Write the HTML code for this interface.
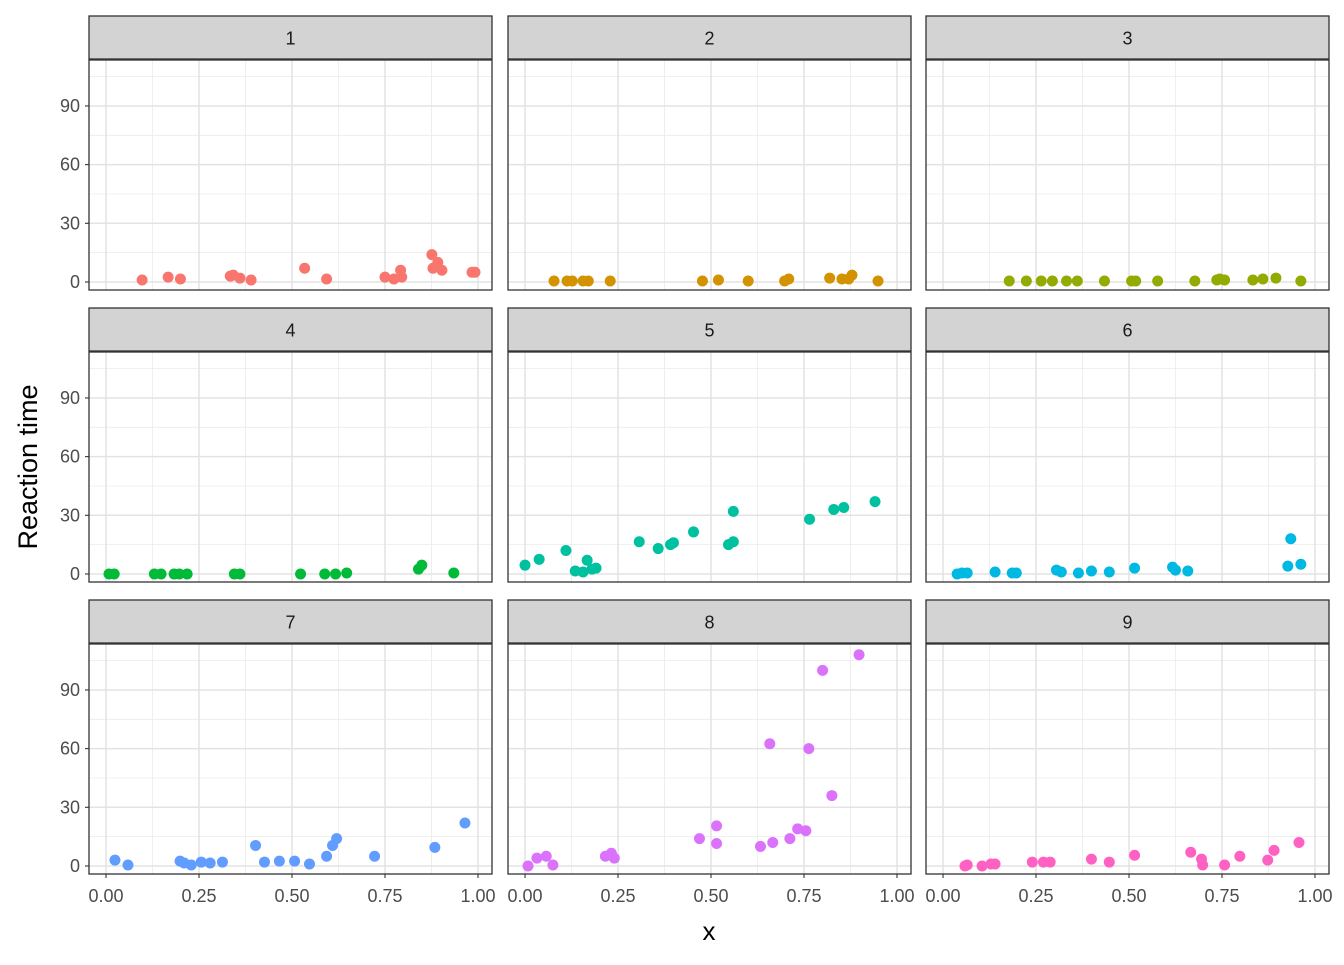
<!DOCTYPE html>
<html><head><meta charset="utf-8"><style>
body{margin:0;background:#fff;font-family:"Liberation Sans",Arial,sans-serif}
svg text{font-family:"Liberation Sans",Arial,sans-serif}
</style></head><body>
<svg id="chart" width="1344" height="960" xmlns="http://www.w3.org/2000/svg">
<rect width="1344" height="960" fill="#fff"/>
<text x="709" y="940" font-size="26" text-anchor="middle" fill="#000">x</text>
<text transform="translate(37,467) rotate(-90)" font-size="27" text-anchor="middle" fill="#000">Reaction time</text>
</svg>
<script>
const panelLabels=["1","2","3","4","5","6","7","8","9"];
const colors=["#F8766D","#D39200","#93AA00","#00BA38","#00C19F","#00B9E3","#619CFF","#DB72FB","#FF61C3"];
const yTicks=[0,30,60,90];
const xTicks=[0,0.25,0.5,0.75,1];
const xTickLabels=["0.00","0.25","0.50","0.75","1.00"];
const xs1=[.097,.167,.2,.334,.342,.36,.39,.534,.593,.75,.774,.792,.795,.876,.892,.879,.903,.984,.992];
const ys1=[1,2.5,1.5,3,3.5,2,1,7,1.5,2.5,1.5,6,2.5,14,10,7,6,5,5];
const xs2=[.078,.113,.127,.156,.17,.229,.477,.52,.6,.698,.709,.819,.852,.87,.879,.949];
const ys2=[.5,.5,.5,.5,.5,.5,.5,1,.5,.5,1.5,2,1.5,1.5,3.5,.5];
const xs3=[.178,.224,.264,.294,.332,.361,.434,.507,.518,.577,.677,.736,.744,.757,.833,.86,.895,.962];
const ys3=[.5,.5,.5,.5,.5,.5,.5,.5,.5,.5,.5,1,1.5,1,1,1.5,2,.5];
const xs4=[.008,.022,.13,.148,.183,.197,.218,.345,.36,.523,.588,.617,.647,.84,.849,.935];
const ys4=[0,0,0,0,0,0,0,0,0,0,0,0,.5,2.5,4.5,.5];
const xs5=[0,.038,.11,.135,.156,.167,.18,.191,.307,.358,.391,.399,.453,.547,.56,.56,.765,.83,.857,.941];
const ys5=[4.5,7.5,12,1.5,1,7,2.5,3,16.5,13,15,16,21.5,15,16.5,32,28,33,34,37];
const xs6=[.038,.051,.065,.14,.186,.197,.305,.318,.364,.399,.447,.515,.617,.625,.658,.927,.935,.962];
const ys6=[0,.5,.5,1,.5,.5,2,1,.5,1.5,1,3,3.5,2,1.5,4,18,5];
const xs7=[.024,.059,.199,.21,.229,.256,.28,.313,.402,.426,.466,.507,.547,.593,.609,.62,.722,.884,.965];
const ys7=[3,.5,2.5,1.5,.5,2,1.5,2,10.5,2,2.5,2.5,1,5,10.5,14,5,9.5,22];
const xs8=[.008,.032,.057,.075,.216,.232,.24,.469,.515,.515,.633,.658,.666,.712,.733,.755,.763,.825,.8,.898];
const ys8=[0,4,5,.5,5,6.5,4,14,20.5,11.5,10,62.5,12,14,19,18,60,36,100,108];
const xs9=[.059,.065,.105,.129,.14,.24,.27,.288,.399,.447,.515,.666,.695,.698,.757,.798,.873,.89,.957];
const ys9=[0,.5,0,1,1,2,2,2,3.5,2,5.5,7,3.5,.5,.5,5,3,8,12];
const XS=[xs1,xs2,xs3,xs4,xs5,xs6,xs7,xs8,xs9];
const YS=[ys1,ys2,ys3,ys4,ys5,ys6,ys7,ys8,ys9];

const NS="http://www.w3.org/2000/svg";
const svg=document.getElementById('chart');
const colL=[89,508,926], rowT=[60,352,644], W=403, H=230, stripH=43;
const xMin=-0.0458,xMax=1.0377,yMin=-4.1,yMax=113.5;
function mk(tag,attrs,parent){const e=document.createElementNS(NS,tag);for(const k in attrs)e.setAttribute(k,attrs[k]);(parent||svg).appendChild(e);return e;}
for(let p=0;p<9;p++){
  const c=p%3,r=Math.floor(p/3),L=colL[c],T=rowT[r];
  const sx=v=>L+(v-xMin)/(xMax-xMin)*W;
  const sy=v=>T+H-(v-yMin)/(yMax-yMin)*H;
  const g=mk('g',{});
  
  
  mk('rect',{x:L,y:T,width:W,height:H,fill:'#fff'},g);
  [15,45,75,105].forEach(v=>mk('line',{x1:L,x2:L+W,y1:sy(v),y2:sy(v),stroke:'#ebebeb','stroke-width':0.8},g));
  [0.125,0.375,0.625,0.875].forEach(v=>mk('line',{x1:sx(v),x2:sx(v),y1:T,y2:T+H,stroke:'#ebebeb','stroke-width':0.8},g));
  yTicks.forEach(v=>mk('line',{x1:L,x2:L+W,y1:sy(v),y2:sy(v),stroke:'#e3e3e3','stroke-width':1.5},g));
  xTicks.forEach(v=>mk('line',{x1:sx(v),x2:sx(v),y1:T,y2:T+H,stroke:'#e3e3e3','stroke-width':1.5},g));
  const xsArr=XS[p],ysArr=YS[p];
  for(let i=0;i<xsArr.length;i++){
    const pt=mk('circle',{cx:sx(xsArr[i]),cy:sy(ysArr[i]),r:5.5,fill:colors[p]},g);
    
    
  }
  mk('rect',{x:L,y:T,width:W,height:H,fill:'none',stroke:'#333','stroke-width':1.3},g);
  const st=mk('rect',{x:L,y:T-stripH-1,width:W,height:stripH,fill:'#d3d3d3',stroke:'#333','stroke-width':1.3},g);
  
  
  const stt=mk('text',{x:L+W/2,y:T-stripH/2+6,'font-size':18,'text-anchor':'middle',fill:'#1a1a1a'},g);
  stt.textContent=panelLabels[p];
  if(c===0){
    yTicks.forEach(v=>{
      mk('line',{x1:L-4,x2:L,y1:sy(v),y2:sy(v),stroke:'#333','stroke-width':1.1},g);
      const t=mk('text',{x:L-9,y:sy(v)+6,'font-size':18,'text-anchor':'end',fill:'#4d4d4d'},g);
      
      
      t.textContent=v;
    });
  }
  if(r===2){
    xTicks.forEach((v,i)=>{
      mk('line',{x1:sx(v),x2:sx(v),y1:T+H,y2:T+H+4,stroke:'#333','stroke-width':1.1},g);
      const t=mk('text',{x:sx(v),y:T+H+28,'font-size':18,'text-anchor':'middle',fill:'#4d4d4d'},g);
      
      
      t.textContent=xTickLabels[i];
    });
  }
}
</script>
</body></html>
